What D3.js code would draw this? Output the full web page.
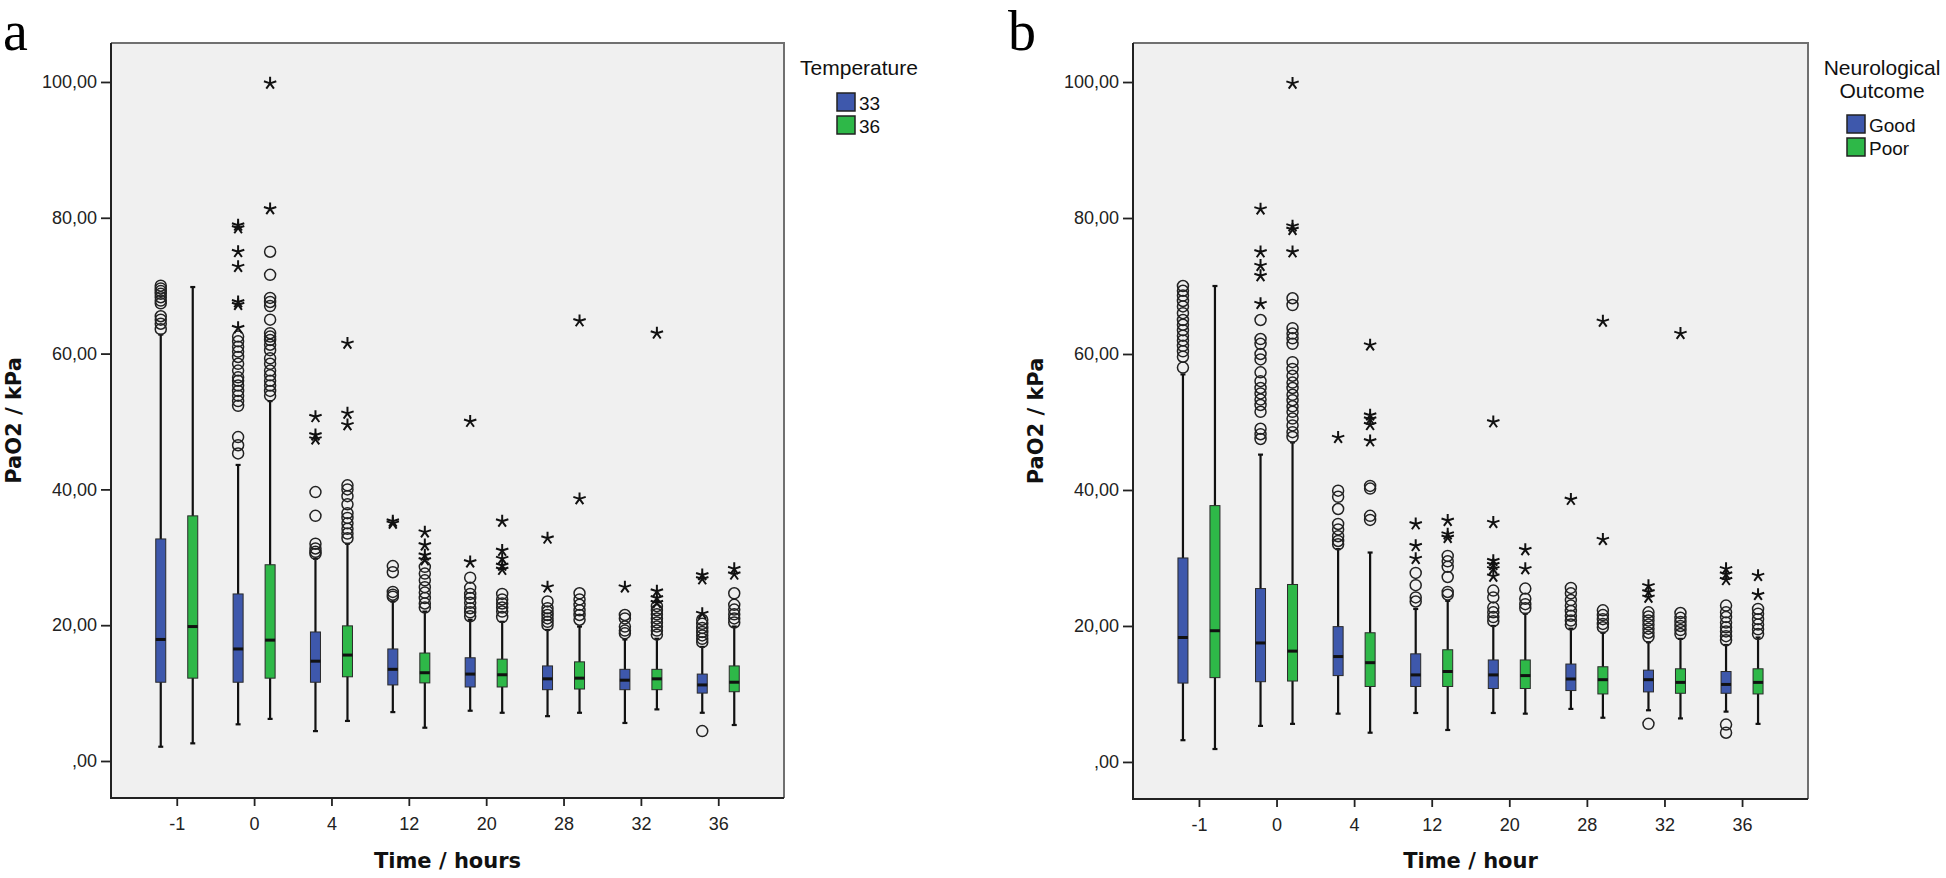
<!DOCTYPE html>
<html><head><meta charset="utf-8">
<script src="https://cdn.jsdelivr.net/npm/d3@7"></script>
<style>body{margin:0;background:#fff;}</style>
</head><body>
<script>
// ---------- DATA ----------
const categories = ["-1","0","4","12","20","28","32","36"];
const yTicks = [0,20,40,60,80,100];
const yTickLabels = [",00","20,00","40,00","60,00","80,00","100,00"];
const groupsA = ["33","36"];
const groupsB = ["Good","Poor"];

// Panel a, Temperature 33
const lowA33  = [2.1, 5.4, 4.4, 7.2, 7.4, 6.6, 5.6, 7.1];
const q1A33   = [11.6, 11.6, 11.6, 11.2, 10.9, 10.5, 10.5, 10.0];
const medA33  = [17.9, 16.5, 14.7, 13.5, 12.8, 12.1, 11.9, 11.2];
const q3A33   = [32.7, 24.6, 19.0, 16.5, 15.2, 14.0, 13.5, 12.8];
const highA33 = [62.8, 43.6, 29.8, 23.5, 20.8, 19.3, 17.9, 16.8];
const circA33 = [
  [70.0,69.6,69.2,68.8,68.3,67.8,67.4,65.5,65.0,64.4,63.6],
  [62.5,61.8,61.0,60.3,59.5,58.5,57.5,56.5,56.0,55.3,54.5,53.8,53.0,52.3,47.7,46.5,45.3],
  [39.6,36.1,32.0,31.3,30.8,30.5],
  [28.7,27.8,24.9,24.5,24.2],
  [27.0,25.5,24.6,24.0,23.3,22.5,21.9,21.3],
  [23.5,22.5,22.0,21.5,21.0,20.5,20.0],
  [21.5,21.0,19.8,19.2,18.8],
  [20.8,20.2,19.6,19.0,18.5,18.0,17.5,4.4]
];
const starA33 = [
  [],
  [78.9,78.5,75.0,72.8,67.6,67.2,63.8],
  [50.7,48.0,47.4],
  [35.3,35.0],
  [50.0,29.3],
  [32.8,25.6],
  [25.6],
  [27.4,26.8,21.7]
];

// Panel a, Temperature 36
const lowA36  = [2.6, 6.2, 5.9, 4.9, 7.1, 7.1, 7.6, 5.3];
const q1A36   = [12.2, 12.2, 12.4, 11.5, 10.9, 10.6, 10.5, 10.2];
const medA36  = [19.8, 17.8, 15.6, 13.0, 12.7, 12.2, 12.1, 11.6];
const q3A36   = [36.1, 28.9, 19.9, 15.9, 15.0, 14.6, 13.5, 14.0];
const highA36 = [69.8, 53.0, 32.0, 22.0, 20.5, 19.8, 18.0, 19.8];
const circA36 = [
  [],
  [75.0,71.6,68.2,67.6,67.0,65.0,63.0,62.5,62.0,61.3,60.5,59.3,58.5,57.5,56.8,56.0,55.3,54.5,53.8],
  [40.6,40.0,39.0,37.8,36.5,35.8,35.0,34.2,33.5,32.8],
  [28.6,27.6,26.6,25.6,24.8,24.0,23.2,22.6],
  [24.6,23.8,23.2,22.6,22.0,21.2],
  [24.7,23.8,23.0,22.2,21.5,20.8],
  [22.8,22.2,21.6,21.0,20.4,19.8,19.2,18.6],
  [24.7,23.0,22.3,21.6,21.0,20.4]
];
const starA36 = [
  [],
  [99.8,81.3],
  [61.5,51.2,49.5],
  [33.7,31.8,30.3,29.6],
  [35.3,31.0,29.8,28.8,28.2],
  [64.8,38.6],
  [63.0,25.0,24.0,23.3],
  [28.3,27.5]
];

// Panel b, Good outcome
const lowBG  = [3.2, 5.3, 7.1, 7.2, 7.2, 7.8, 7.6, 7.4];
const q1BG   = [11.6, 11.8, 12.7, 11.1, 10.8, 10.5, 10.3, 10.1];
const medBG  = [18.3, 17.5, 15.5, 12.8, 12.8, 12.2, 12.1, 11.4];
const q3BG   = [30.0, 25.5, 19.9, 15.9, 15.0, 14.4, 13.5, 13.3];
const highBG = [57.0, 45.2, 31.3, 22.5, 20.0, 19.6, 17.6, 17.2];
const circBG = [
  [70.0,69.3,68.6,67.8,67.0,66.0,65.0,64.3,63.5,62.7,62.0,61.2,60.4,59.6,58.0],
  [65.0,62.2,61.5,60.0,59.2,57.3,56.0,55.0,54.2,53.3,52.5,51.5,49.0,48.2,47.5],
  [39.9,39.0,37.2,35.0,34.2,33.2,32.5,32.0],
  [27.8,26.0,24.2,23.6],
  [25.2,24.2,22.7,22.0,21.3,20.7],
  [25.6,24.8,23.8,23.0,22.2,21.5,20.8,20.2],
  [22.0,21.4,20.8,20.2,19.6,19.0,18.4,5.6],
  [23.0,22.0,21.3,20.5,19.8,19.2,18.5,17.9,5.5,4.3]
];
const starBG = [
  [],
  [81.3,75.0,73.0,71.5,67.4],
  [47.7],
  [35.0,31.8,29.9],
  [50.0,35.2,29.6,29.0,28.4,27.3],
  [38.6],
  [25.9,25.0,24.2],
  [28.4,27.6,26.8]
];

// Panel b, Poor outcome
const lowBP  = [1.9, 5.6, 4.3, 4.7, 7.1, 6.5, 6.4, 5.6];
const q1BP   = [12.4, 11.9, 11.1, 11.1, 10.8, 10.0, 10.1, 10.0];
const medBP  = [19.3, 16.3, 14.6, 13.3, 12.7, 12.1, 11.7, 11.7];
const q3BP   = [37.7, 26.1, 19.0, 16.5, 15.0, 14.0, 13.7, 13.7];
const highBP = [70.0, 47.0, 30.8, 23.7, 21.8, 19.0, 18.1, 18.3];
const circBP = [
  [],
  [68.2,67.2,63.8,63.0,62.3,61.5,58.8,57.8,56.8,55.8,55.0,54.0,53.2,52.3,51.5,50.5,49.5,48.5,47.8],
  [40.6,40.2,36.2,35.6],
  [30.3,29.5,28.7,27.2,25.0,24.6],
  [25.5,24.0,23.2,22.6],
  [22.3,21.6,21.0,20.3,19.8],
  [21.9,21.2,20.6,20.0,19.4,18.8],
  [22.5,21.8,21.0,20.2,19.5,18.8]
];
const starBP = [
  [],
  [99.8,78.8,78.3,75.0],
  [61.3,51.0,50.4,49.6,47.2],
  [35.5,33.5,33.0],
  [31.2,28.4],
  [64.8,32.7],
  [63.0],
  [27.4,24.6]
];

// ---------- DRAW ----------
const blue = "#3E58AC", green = "#2EB848";
const svg = d3.select("body").append("svg").attr("width",1946).attr("height",878);

function series(low,q1,med,q3,high,circ,star){
  return categories.map((c,i)=>({cat:c,low:low[i],q1:q1[i],med:med[i],q3:q3[i],high:high[i],circ:circ[i],star:star[i]}));
}

const panels = [
  {L:111,R:784,T:43,B:798,letter:"a",letterX:3,xTitle:"Time / hours",
   legTitle:["Temperature"],legTitleX:859,legSwX:837,legSwY:93,legLabelX:859,groups:groupsA,
   data:[series(lowA33,q1A33,medA33,q3A33,highA33,circA33,starA33),series(lowA36,q1A36,medA36,q3A36,highA36,circA36,starA36)]},
  {L:1133,R:1808,T:43,B:799,letter:"b",letterX:1008,xTitle:"Time / hour",
   legTitle:["Neurological","Outcome"],legTitleX:1882,legSwX:1847,legSwY:115,legLabelX:1869,groups:groupsB,
   data:[series(lowBG,q1BG,medBG,q3BG,highBG,circBG,starBG),series(lowBP,q1BP,medBP,q3BP,highBP,circBP,starBP)]}
];

function starPath(r){
  let p="";
  for(let k=0;k<5;k++){
    const a=-Math.PI/2+k*2*Math.PI/5;
    p+=`M0,0L${(r*Math.cos(a)).toFixed(2)},${(r*Math.sin(a)).toFixed(2)}`;
  }
  return p;
}

panels.forEach(P=>{
  const g = svg.append("g");
  const y = d3.scaleLinear().domain([-5.45,105.74]).range([P.B,P.T]);
  const x = d3.scalePoint().domain(categories).range([P.L,P.R]).padding(0.85);
  const colors=[blue,green];
  const off=[-16,16];
  const bw=10;

  g.append("rect").attr("x",P.L).attr("y",P.T).attr("width",P.R-P.L).attr("height",P.B-P.T).attr("fill","#F0F0F0");
  g.append("path").attr("d",`M${P.L},${P.T}H${P.R}V${P.B}`).attr("fill","none").attr("stroke","#707070").attr("stroke-width",2);

  const ya = g.append("g").attr("transform",`translate(${P.L},0)`)
    .call(d3.axisLeft(y).tickValues(yTicks).tickFormat((d,i)=>yTickLabels[i]).tickSize(10).tickPadding(4));
  ya.select(".domain").remove();
  ya.selectAll("line").attr("stroke","#222").attr("stroke-width",1.8);
  ya.selectAll("text").attr("font-family","'Liberation Sans', Arial, sans-serif").attr("font-size",18).attr("fill","#222");

  const xa = g.append("g").attr("transform",`translate(0,${P.B})`)
    .call(d3.axisBottom(x).tickSize(8).tickPadding(11));
  xa.select(".domain").remove();
  xa.selectAll("line").attr("stroke","#222").attr("stroke-width",1.8);
  xa.selectAll("text").attr("font-family","'Liberation Sans', Arial, sans-serif").attr("font-size",18).attr("fill","#222");

  g.append("path").attr("d",`M${P.L},${P.T}V${P.B}H${P.R}`).attr("fill","none").attr("stroke","#222").attr("stroke-width",2);

  P.data.forEach((ser,gi)=>{
    const gg = g.append("g");
    ser.forEach(d=>{
      const cx = x(d.cat)+off[gi];
      gg.append("line").attr("x1",cx).attr("x2",cx).attr("y1",y(d.low)).attr("y2",y(d.high)).attr("stroke","#111").attr("stroke-width",2.2);
      [d.low,d.high].forEach(v=>gg.append("line").attr("x1",cx-2.5).attr("x2",cx+2.5).attr("y1",y(v)).attr("y2",y(v)).attr("stroke","#111").attr("stroke-width",2.2));
      gg.append("rect").attr("x",cx-bw/2).attr("y",y(d.q3)).attr("width",bw).attr("height",y(d.q1)-y(d.q3))
        .attr("fill",colors[gi]).attr("stroke","#2a2a2a").attr("stroke-width",1);
      gg.append("line").attr("x1",cx-bw/2).attr("x2",cx+bw/2).attr("y1",y(d.med)).attr("y2",y(d.med)).attr("stroke","#111").attr("stroke-width",3);
      d.circ.forEach(v=>gg.append("circle").attr("cx",cx).attr("cy",y(v)).attr("r",5.5).attr("fill","none").attr("stroke","#222").attr("stroke-width",1.5));
      d.star.forEach(v=>gg.append("path").attr("transform",`translate(${cx},${y(v)})`).attr("d",starPath(6.5)).attr("fill","none").attr("stroke","#111").attr("stroke-width",2));
    });
  });

  g.append("text").attr("x",(P.L+P.R)/2).attr("y",868).attr("text-anchor","middle")
    .attr("font-family","'DejaVu Sans', sans-serif").attr("font-weight","bold").attr("font-size",21).attr("fill","#111").text(P.xTitle);
  g.append("text").attr("transform",`translate(${P.L-90},${(P.T+P.B)/2}) rotate(-90)`).attr("text-anchor","middle")
    .attr("font-family","'DejaVu Sans', sans-serif").attr("font-weight","bold").attr("font-size",21).attr("fill","#111").text("PaO2 / kPa");
  g.append("text").attr("x",P.letterX).attr("y",50).attr("font-family","'Liberation Serif', 'Times New Roman', serif").attr("font-size",56).attr("fill","#000").text(P.letter);

  P.legTitle.forEach((t,i)=>g.append("text").attr("x",P.legTitleX).attr("y",75+i*23).attr("text-anchor","middle")
    .attr("font-family","'Liberation Sans', Arial, sans-serif").attr("font-size",21).attr("fill","#111").text(t));
  P.groups.forEach((t,i)=>{
    g.append("rect").attr("x",P.legSwX).attr("y",P.legSwY+i*23).attr("width",18).attr("height",18).attr("fill",colors[i]).attr("stroke","#222").attr("stroke-width",1.5);
    g.append("text").attr("x",P.legLabelX).attr("y",P.legSwY+i*23+17).attr("font-family","'Liberation Sans', Arial, sans-serif").attr("font-size",19).attr("fill","#111").text(t);
  });
});
</script>
</body></html>
